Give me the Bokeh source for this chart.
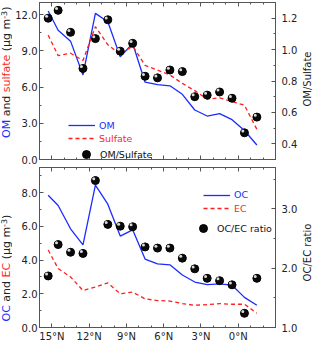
import math
from bokeh.plotting import figure
from bokeh.models import (Range1d, LinearAxis, SingleIntervalTicker, FixedTicker,
                          CustomJSTickFormatter, NumeralTickFormatter, Legend,
                          LegendItem, ColumnDataSource)
from bokeh.core.properties import value
from bokeh.layouts import column, row
from bokeh.transform import dodge
from bokeh.embed import file_html
from bokeh.resources import INLINE

# ---------------- data ----------------
lat = [15.3, 14.5, 13.5, 12.5, 11.5, 10.5, 9.5, 8.5, 7.5, 6.5, 5.5, 4.5, 3.5, 2.5, 1.5, 0.5, -0.5, -1.5]
om = [12.3, 10.7, 9.8, 7.0, 12.1, 11.4, 8.5, 9.6, 6.4, 6.2, 6.1, 5.4, 4.1, 3.6, 3.8, 3.3, 2.4, 1.2]
sulfate = [10.3, 8.6, 8.8, 8.2, 11.0, 9.5, 8.7, 9.4, 7.8, 7.4, 7.0, 6.3, 5.7, 5.0, 5.1, 4.8, 4.5, 2.5]
om_sulfate = [1.20, 1.25, 1.11, 0.88, 1.07, 1.19, 0.99, 1.04, 0.83, 0.82, 0.87, 0.86, 0.70, 0.71, 0.73, 0.69, 0.47, 0.57]
oc = [7.85, 7.24, 5.86, 4.91, 8.45, 7.32, 5.43, 5.8, 4.06, 3.78, 3.72, 3.12, 2.7, 2.55, 2.59, 2.51, 1.79, 1.32]
ec = [4.6, 3.5, 3.0, 2.2, 2.4, 2.65, 2.0, 2.1, 1.7, 1.6, 1.57, 1.42, 1.32, 1.36, 1.42, 1.38, 1.38, 0.85]
oc_ec = [1.87, 2.40, 2.27, 2.25, 3.48, 2.74, 2.71, 2.70, 2.36, 2.34, 2.34, 2.17, 1.99, 1.83, 1.79, 1.72, 1.24, 1.83]
lat_ticks = [15, 12, 9, 6, 3, 0]
lat_minor = list(range(-3, 17))

# ---------------- style ----------------
FONT = "DejaVu Sans"
AX = "#555555"
TX = "#222222"
BLUE = "#1a2cff"
RED = "#ff1f1f"
LW, RW = 12, 14            # side label strips
W = 314 - LW - RW          # main figure width
BL, BR = 25, 23
XR = (16, -3)
H1, T1, B1 = 165, 2, 6
H2, T2, B2 = 179, 2, 15
HT = H1 + H2
LEGFS = "9.5px"

DV = {'O': 1612, 'M': 1767, 'C': 1430, 'E': 1294, ' ': 651, 'a': 1255, 'n': 1298, 'd': 1300,
      's': 1067, 'u': 1298, 'l': 569, 'f': 721, 't': 803, 'e': 1260, '(': 799, ')': 799,
      '\u03bc': 1300, 'g': 1300, 'm': 1995, '-': 739, '3': 1303}


def tw(t, size):
    return sum(DV.get(c, 1250) for c in t) / 2048.0 * size


def style(ax, labels=True, standoff=3):
    ax.axis_line_color = AX
    ax.major_tick_line_color = AX
    ax.minor_tick_line_color = AX
    ax.major_tick_in = 4
    ax.major_tick_out = 0
    ax.minor_tick_in = 2
    ax.minor_tick_out = 0
    ax.major_label_text_font = FONT
    ax.major_label_text_font_size = "10px" if labels else "0px"
    ax.major_label_text_color = TX
    ax.major_label_standoff = standoff if labels else 0


def make_fig(h, top, bottom, ylim, rlim, yint, rint, show_x):
    p = figure(width=W, height=h, x_range=Range1d(*XR), y_range=Range1d(*ylim),
               output_backend="svg", toolbar_location=None,
               min_border_left=BL, min_border_right=BR,
               min_border_top=top, min_border_bottom=bottom,
               x_axis_location=None, y_axis_location=None)
    p.extra_y_ranges = {"r": Range1d(*rlim)}
    xt = FixedTicker(ticks=lat_ticks, minor_ticks=lat_minor)
    if show_x:
        fmt = CustomJSTickFormatter(code="return tick + '\u00b0N'")
    else:
        fmt = CustomJSTickFormatter(code="return ''")
    xb = LinearAxis(ticker=xt, formatter=fmt)
    style(xb, labels=show_x)
    p.add_layout(xb, "below")
    xa = LinearAxis(ticker=xt, formatter=CustomJSTickFormatter(code="return ''"))
    style(xa, labels=False)
    p.add_layout(xa, "above")
    yl = LinearAxis(ticker=SingleIntervalTicker(interval=yint, num_minor_ticks=2),
                    formatter=NumeralTickFormatter(format="0.0"))
    style(yl, standoff=2)
    p.add_layout(yl, "left")
    yr = LinearAxis(y_range_name="r", ticker=SingleIntervalTicker(interval=rint, num_minor_ticks=2),
                    formatter=NumeralTickFormatter(format="0.0"))
    style(yr, standoff=6)
    p.add_layout(yr, "right")
    p.grid.visible = False
    p.outline_line_color = AX
    p.background_fill_color = "white"
    p.border_fill_color = "white"
    return p


def legend(p, label, rends, color, x, y, gw=27, gh=12, standoff=4):
    lg = Legend(items=[LegendItem(label=label, renderers=rends)], location=(x, y),
                label_text_color=color, label_text_font=FONT, label_text_font_size=LEGFS,
                glyph_width=gw, glyph_height=gh, label_height=12, label_standoff=standoff,
                padding=0, margin=0, spacing=0, border_line_color=None,
                background_fill_alpha=0)
    p.add_layout(lg)


def strip(width):
    s = figure(width=width, height=HT, x_range=Range1d(0, width), y_range=Range1d(0, HT),
               output_backend="svg", toolbar_location=None,
               x_axis_location=None, y_axis_location=None,
               min_border_left=0, min_border_right=0, min_border_top=0, min_border_bottom=0)
    s.grid.visible = False
    s.outline_line_color = None
    s.background_fill_color = "white"
    s.border_fill_color = "white"
    return s


def vlabel(s, segs, x, y0, size=11):
    pos = 0.0
    for text, color, sup, gap in segs:
        fs = size * 0.72 if sup else size
        xx = x - (2.5 if sup else 0.0)
        s.text(x=[xx], y=[y0 + pos], text=[text], angle=math.pi / 2,
               text_align="left", text_baseline="middle",
               text_font=value(FONT), text_font_size=value(f"{fs:.1f}px"), text_color=color)
        pos += tw(text, fs) + gap * tw(" ", size)


# ---------------- top panel ----------------
p1 = make_fig(H1, T1, B1, (0, 13), (0.3, 1.3), 3, 0.2, False)
src1 = ColumnDataSource(dict(lat=lat, om=om, sulfate=sulfate, oms=om_sulfate))
r_om = p1.line("lat", "om", source=src1, line_color=BLUE, line_width=1.3)
r_su = p1.line("lat", "sulfate", source=src1, line_color=RED, line_width=1.3, line_dash="4 3")
r_d1 = p1.scatter("lat", "oms", source=src1, y_range_name="r", size=8,
                  fill_color="#0a0a0a", line_color="#000000")
p1.scatter(dodge("lat", 0.13), dodge("oms", 0.012), source=src1, y_range_name="r", size=3,
           fill_color="#d8d8d8", line_color=None)

legend(p1, "OM", [r_om], BLUE, 29, 28)
legend(p1, "Sulfate", [r_su], RED, 29, 15)
legend(p1, "OM/Sulfate", [r_d1], "#111111", 37, -5, gw=20, gh=20, standoff=4)

# ---------------- bottom panel ----------------
p2 = make_fig(H2, T2, B2, (0, 9.5), (1.0, 3.7), 2, 1, True)
src2 = ColumnDataSource(dict(lat=lat, oc=oc, ec=ec, ratio=oc_ec))
r_oc = p2.line("lat", "oc", source=src2, line_color=BLUE, line_width=1.3)
r_ec = p2.line("lat", "ec", source=src2, line_color=RED, line_width=1.3, line_dash="4 3")
r_d2 = p2.scatter("lat", "ratio", source=src2, y_range_name="r", size=8,
                  fill_color="#0a0a0a", line_color="#000000")
p2.scatter(dodge("lat", 0.13), dodge("ratio", 0.032), source=src2, y_range_name="r", size=3,
           fill_color="#d8d8d8", line_color=None)

legend(p2, "OC", [r_oc], BLUE, 164, 126.5)
legend(p2, "EC", [r_ec], RED, 164, 113)
legend(p2, "OC/EC ratio", [r_d2], "#111111", 154, 89, gw=20, gh=20, standoff=4)

# ---------------- axis titles (side strips) ----------------
sl = strip(LW)
vlabel(sl, [("OM", BLUE, False, 1), ("and", TX, False, 1), ("sulfate", RED, False, 1),
            ("(\u03bcg m", TX, False, 0), ("-3", TX, True, 0), (")", TX, False, 0)],
       6, 206.5)
vlabel(sl, [("OC", BLUE, False, 1), ("and", TX, False, 1), ("EC", RED, False, 1),
            ("(\u03bcg m", TX, False, 0), ("-3", TX, True, 0), (")", TX, False, 0)],
       6, 23)

sr = strip(RW)
sr.text(x=[7, 7], y=[265.5, 92], text=["OM/Sulfate", "OC/EC ratio"], angle=math.pi / 2,
        text_align="center", text_baseline="middle", text_font=value(FONT),
        text_font_size=value("10px"), text_color=TX)

layout = row(sl, column(p1, p2, spacing=0), sr, spacing=0)
open("out.html", "w").write(file_html(layout, INLINE))
